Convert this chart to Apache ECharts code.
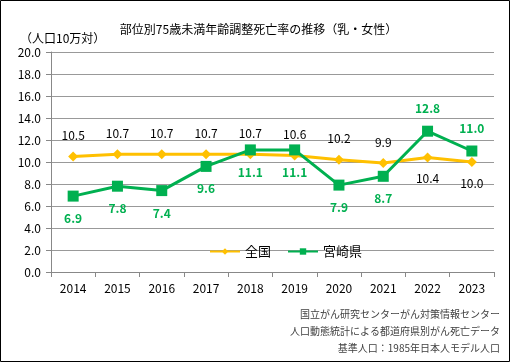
<!DOCTYPE html>
<html><head><meta charset="utf-8">
<script src="https://cdn.jsdelivr.net/npm/echarts@6/dist/echarts.min.js"></script>
<style>html,body{margin:0;padding:0;background:#fff}#c{width:517px;height:364px}</style>
</head><body><div id="c"></div>
<script>
const years = ['2014','2015','2016','2017','2018','2019','2020','2021','2022','2023'];
const zenkoku = [10.5,10.7,10.7,10.7,10.7,10.6,10.2,9.9,10.4,10.0];
const miyazaki = [6.9,7.8,7.4,9.6,11.1,11.1,7.9,8.7,12.8,11.0];
const zenkokuLabelPos = ['top','top','top','top','top','top','top','top','bottom','bottom'];
const miyazakiLabelPos = ['bottom','bottom','bottom','bottom','bottom','bottom','bottom','bottom','top','top'];
const yTicks = [0,2,4,6,8,10,12,14,16,18,20];
const footer = ['国立がん研究センターがん対策情報センター','人口動態統計による都道府県別がん死亡データ','基準人口：1985年日本人モデル人口'];

const FONT = '"Noto Sans CJK JP", sans-serif';
const chart = echarts.init(document.getElementById('c'), null, {renderer:'canvas'});
chart.setOption({
  animation:false,
  textStyle:{fontFamily:FONT},
  graphic:[
    {type:'rect', shape:{x:0.5,y:0.5,width:509,height:361}, style:{fill:'none',stroke:'#000',lineWidth:1}, z:-1},
    ...footer.map((t,i)=>({type:'text', right:17, top:309+i*17, style:{text:t, font:'10px '+FONT, fill:'#404040', textAlign:'right'}}))
  ],
  title:{text:'部位別75歳未満年齢調整死亡率の推移（乳・女性）', left:'center', top:18, textStyle:{fontSize:12, fontWeight:'normal', color:'#000', fontFamily:FONT}},
  legend:{data:['全国','宮崎県'], left:204, top:240, itemWidth:30, itemHeight:8, itemGap:16, textStyle:{fontSize:13,color:'#000',fontFamily:FONT}},
  grid:{left:51, right:23, top:52, bottom:92, containLabel:false},
  xAxis:{type:'category', data:years, boundaryGap:true,
    axisLine:{lineStyle:{color:'#888'}}, axisTick:{show:true, length:5, lineStyle:{color:'#888'}},
    axisLabel:{color:'#000', fontSize:12, margin:10, fontFamily:FONT}},
  yAxis:{type:'value', min:0, max:20, interval:2,
    name:'（人口10万対）', nameLocation:'end', nameGap:8, nameTextStyle:{color:'#000', fontSize:12, align:'left', padding:[0,0,0,-31], fontFamily:FONT},
    axisLine:{show:true, lineStyle:{color:'#888'}}, axisTick:{show:true, length:5, lineStyle:{color:'#888'}},
    splitLine:{lineStyle:{color:'#999'}},
    axisLabel:{color:'#000', fontSize:12, margin:10, formatter:v=>v.toFixed(1), fontFamily:FONT}},
  series:[
    {name:'全国', type:'line', data:zenkoku.map((v,i)=>({value:v, label:{position:zenkokuLabelPos[i]}})),
      symbol:'diamond', symbolSize:10, lineStyle:{color:'#FFC000', width:3}, itemStyle:{color:'#FFC000'},
      label:{show:true, distance:10, color:'#000', fontSize:12, formatter:p=>p.value.toFixed(1), fontFamily:FONT}},
    {name:'宮崎県', type:'line', data:miyazaki.map((v,i)=>({value:v, label:{position:miyazakiLabelPos[i]}})),
      symbol:'rect', symbolSize:11, lineStyle:{color:'#00B050', width:3}, itemStyle:{color:'#00B050'},
      label:{show:true, distance:11, color:'#00B050', fontSize:12, fontWeight:'bold', formatter:p=>p.value.toFixed(1), fontFamily:FONT}}
  ]
});
</script></body></html>
